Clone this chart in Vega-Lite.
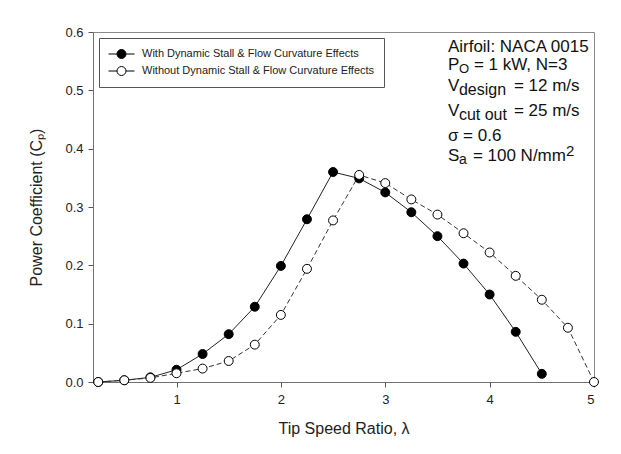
{
  "$schema": "https://vega.github.io/schema/vega-lite/v6.json",
  "width": 501,
  "height": 350,
  "autosize": {"type": "none"},
  "padding": {"left": 93, "top": 32, "right": 27, "bottom": 72},
  "background": "white",
  "config": {
    "font": "Liberation Sans",
    "view": {"stroke": "#8a8a8a", "strokeWidth": 1},
    "axis": {
      "grid": false,
      "domainColor": "#707070",
      "tickColor": "#555555",
      "tickSize": 5,
      "labelColor": "#222222",
      "titleColor": "#222222",
      "labelFont": "Liberation Sans",
      "titleFont": "Liberation Sans",
      "labelFontSize": 13,
      "titleFontSize": 16,
      "titleFontWeight": "normal"
    }
  },
  "data": {
    "values": [
      {"series": "With Dynamic Stall & Flow Curvature Effects", "lambda": 0.25, "cp": 0.0},
      {"series": "With Dynamic Stall & Flow Curvature Effects", "lambda": 0.5, "cp": 0.003},
      {"series": "With Dynamic Stall & Flow Curvature Effects", "lambda": 0.75, "cp": 0.008},
      {"series": "With Dynamic Stall & Flow Curvature Effects", "lambda": 1.0, "cp": 0.021},
      {"series": "With Dynamic Stall & Flow Curvature Effects", "lambda": 1.25, "cp": 0.048},
      {"series": "With Dynamic Stall & Flow Curvature Effects", "lambda": 1.5, "cp": 0.082},
      {"series": "With Dynamic Stall & Flow Curvature Effects", "lambda": 1.75, "cp": 0.129},
      {"series": "With Dynamic Stall & Flow Curvature Effects", "lambda": 2.0, "cp": 0.199},
      {"series": "With Dynamic Stall & Flow Curvature Effects", "lambda": 2.25, "cp": 0.279},
      {"series": "With Dynamic Stall & Flow Curvature Effects", "lambda": 2.5, "cp": 0.36},
      {"series": "With Dynamic Stall & Flow Curvature Effects", "lambda": 2.75, "cp": 0.349},
      {"series": "With Dynamic Stall & Flow Curvature Effects", "lambda": 3.0, "cp": 0.325},
      {"series": "With Dynamic Stall & Flow Curvature Effects", "lambda": 3.25, "cp": 0.291},
      {"series": "With Dynamic Stall & Flow Curvature Effects", "lambda": 3.5, "cp": 0.25},
      {"series": "With Dynamic Stall & Flow Curvature Effects", "lambda": 3.75, "cp": 0.203},
      {"series": "With Dynamic Stall & Flow Curvature Effects", "lambda": 4.0, "cp": 0.15},
      {"series": "With Dynamic Stall & Flow Curvature Effects", "lambda": 4.25, "cp": 0.086},
      {"series": "With Dynamic Stall & Flow Curvature Effects", "lambda": 4.5, "cp": 0.014},
      {"series": "Without Dynamic Stall & Flow Curvature Effects", "lambda": 0.25, "cp": 0.0},
      {"series": "Without Dynamic Stall & Flow Curvature Effects", "lambda": 0.5, "cp": 0.003},
      {"series": "Without Dynamic Stall & Flow Curvature Effects", "lambda": 0.75, "cp": 0.007},
      {"series": "Without Dynamic Stall & Flow Curvature Effects", "lambda": 1.0, "cp": 0.015},
      {"series": "Without Dynamic Stall & Flow Curvature Effects", "lambda": 1.25, "cp": 0.023},
      {"series": "Without Dynamic Stall & Flow Curvature Effects", "lambda": 1.5, "cp": 0.036},
      {"series": "Without Dynamic Stall & Flow Curvature Effects", "lambda": 1.75, "cp": 0.064},
      {"series": "Without Dynamic Stall & Flow Curvature Effects", "lambda": 2.0, "cp": 0.115},
      {"series": "Without Dynamic Stall & Flow Curvature Effects", "lambda": 2.25, "cp": 0.194},
      {"series": "Without Dynamic Stall & Flow Curvature Effects", "lambda": 2.5, "cp": 0.277},
      {"series": "Without Dynamic Stall & Flow Curvature Effects", "lambda": 2.75, "cp": 0.355},
      {"series": "Without Dynamic Stall & Flow Curvature Effects", "lambda": 3.0, "cp": 0.341},
      {"series": "Without Dynamic Stall & Flow Curvature Effects", "lambda": 3.25, "cp": 0.313},
      {"series": "Without Dynamic Stall & Flow Curvature Effects", "lambda": 3.5, "cp": 0.287},
      {"series": "Without Dynamic Stall & Flow Curvature Effects", "lambda": 3.75, "cp": 0.255},
      {"series": "Without Dynamic Stall & Flow Curvature Effects", "lambda": 4.0, "cp": 0.222},
      {"series": "Without Dynamic Stall & Flow Curvature Effects", "lambda": 4.25, "cp": 0.182},
      {"series": "Without Dynamic Stall & Flow Curvature Effects", "lambda": 4.5, "cp": 0.141},
      {"series": "Without Dynamic Stall & Flow Curvature Effects", "lambda": 4.75, "cp": 0.093},
      {"series": "Without Dynamic Stall & Flow Curvature Effects", "lambda": 5.0, "cp": 0.0}
    ]
  },
  "layer": [
    {
      "transform": [{"filter": "datum.series === 'With Dynamic Stall & Flow Curvature Effects'"}],
      "mark": {"type": "line", "color": "#222222", "strokeWidth": 1},
      "encoding": {
        "x": {
          "field": "lambda", "type": "quantitative",
          "scale": {"domain": [0.2, 5], "nice": false, "zero": false},
          "axis": {"values": [1, 2, 3, 4, 5], "format": "d", "title": "Tip Speed Ratio, λ", "labelPadding": 6, "titlePadding": 14}
        },
        "y": {
          "field": "cp", "type": "quantitative",
          "scale": {"domain": [0, 0.6], "nice": false},
          "axis": {"values": [0, 0.1, 0.2, 0.3, 0.4, 0.5, 0.6], "format": ".1f", "title": "Power Coefficient (Cₚ)", "labelPadding": 5, "titlePadding": 20}
        }
      }
    },
    {
      "transform": [{"filter": "datum.series === 'Without Dynamic Stall & Flow Curvature Effects'"}],
      "mark": {"type": "line", "color": "#333333", "strokeWidth": 1, "strokeDash": [5, 3]},
      "encoding": {
        "x": {"field": "lambda", "type": "quantitative"},
        "y": {"field": "cp", "type": "quantitative"}
      }
    },
    {
      "mark": {"type": "point", "shape": "circle", "filled": true, "stroke": "#000000", "strokeWidth": 1, "size": 80, "opacity": 1},
      "encoding": {
        "x": {"field": "lambda", "type": "quantitative"},
        "y": {"field": "cp", "type": "quantitative"},
        "fill": {
          "field": "series", "type": "nominal",
          "scale": {"domain": ["With Dynamic Stall & Flow Curvature Effects", "Without Dynamic Stall & Flow Curvature Effects"], "range": ["#000000", "#ffffff"]},
          "legend": {
            "orient": "none", "legendX": 6, "legendY": 6, "title": null,
            "symbolType": "M-1,0H0.31M1.69,0H3M1.69,0A0.69,0.69,0,1,1,0.31,0A0.69,0.69,0,1,1,1.69,0Z",
            "symbolSize": 169, "symbolStrokeColor": "#000000", "symbolStrokeWidth": 1, "symbolOpacity": 1,
            "labelFontSize": 11, "labelFont": "Liberation Sans", "labelColor": "#222222", "labelOffset": 20, "labelLimit": 400,
            "strokeColor": "#555555", "fillColor": "#ffffff", "padding": 9, "rowPadding": 3
          }
        }
      }
    },
    {
      "data": {"values": [{"t": "Airfoil: NACA 0015"}]},
      "mark": {"type": "text", "align": "left", "baseline": "middle", "fontSize": 17, "color": "#111111"},
      "encoding": {"x": {"datum": 3.6}, "y": {"datum": 0.574}, "text": {"field": "t"}}
    },
    {
      "data": {"values": [{"t": "P"}]},
      "mark": {"type": "text", "align": "left", "baseline": "middle", "fontSize": 17, "color": "#111111"},
      "encoding": {"x": {"datum": 3.6}, "y": {"datum": 0.543}, "text": {"field": "t"}}
    },
    {
      "data": {"values": [{"t": "O"}]},
      "mark": {"type": "text", "align": "left", "baseline": "middle", "fontSize": 13, "color": "#111111", "dx": 11, "dy": 4},
      "encoding": {"x": {"datum": 3.6}, "y": {"datum": 0.543}, "text": {"field": "t"}}
    },
    {
      "data": {"values": [{"t": "= 1 kW, N=3"}]},
      "mark": {"type": "text", "align": "left", "baseline": "middle", "fontSize": 17, "color": "#111111", "dx": 26},
      "encoding": {"x": {"datum": 3.6}, "y": {"datum": 0.543}, "text": {"field": "t"}}
    },
    {
      "data": {"values": [{"t": "V"}]},
      "mark": {"type": "text", "align": "left", "baseline": "middle", "fontSize": 17, "color": "#111111"},
      "encoding": {"x": {"datum": 3.6}, "y": {"datum": 0.507}, "text": {"field": "t"}}
    },
    {
      "data": {"values": [{"t": "design"}]},
      "mark": {"type": "text", "align": "left", "baseline": "middle", "fontSize": 16, "color": "#111111", "dx": 11, "dy": 4},
      "encoding": {"x": {"datum": 3.6}, "y": {"datum": 0.507}, "text": {"field": "t"}}
    },
    {
      "data": {"values": [{"t": "= 12 m/s"}]},
      "mark": {"type": "text", "align": "left", "baseline": "middle", "fontSize": 17, "color": "#111111", "dx": 66},
      "encoding": {"x": {"datum": 3.6}, "y": {"datum": 0.507}, "text": {"field": "t"}}
    },
    {
      "data": {"values": [{"t": "V"}]},
      "mark": {"type": "text", "align": "left", "baseline": "middle", "fontSize": 17, "color": "#111111"},
      "encoding": {"x": {"datum": 3.6}, "y": {"datum": 0.464}, "text": {"field": "t"}}
    },
    {
      "data": {"values": [{"t": "cut out"}]},
      "mark": {"type": "text", "align": "left", "baseline": "middle", "fontSize": 16, "color": "#111111", "dx": 11, "dy": 4},
      "encoding": {"x": {"datum": 3.6}, "y": {"datum": 0.464}, "text": {"field": "t"}}
    },
    {
      "data": {"values": [{"t": "= 25 m/s"}]},
      "mark": {"type": "text", "align": "left", "baseline": "middle", "fontSize": 17, "color": "#111111", "dx": 66},
      "encoding": {"x": {"datum": 3.6}, "y": {"datum": 0.464}, "text": {"field": "t"}}
    },
    {
      "data": {"values": [{"t": "σ = 0.6"}]},
      "mark": {"type": "text", "align": "left", "baseline": "middle", "fontSize": 17, "color": "#111111"},
      "encoding": {"x": {"datum": 3.6}, "y": {"datum": 0.421}, "text": {"field": "t"}}
    },
    {
      "data": {"values": [{"t": "S"}]},
      "mark": {"type": "text", "align": "left", "baseline": "middle", "fontSize": 17, "color": "#111111"},
      "encoding": {"x": {"datum": 3.6}, "y": {"datum": 0.388}, "text": {"field": "t"}}
    },
    {
      "data": {"values": [{"t": "a"}]},
      "mark": {"type": "text", "align": "left", "baseline": "middle", "fontSize": 14, "color": "#111111", "dx": 11, "dy": 4},
      "encoding": {"x": {"datum": 3.6}, "y": {"datum": 0.388}, "text": {"field": "t"}}
    },
    {
      "data": {"values": [{"t": "= 100 N/mm"}]},
      "mark": {"type": "text", "align": "left", "baseline": "middle", "fontSize": 17, "color": "#111111", "dx": 25},
      "encoding": {"x": {"datum": 3.6}, "y": {"datum": 0.388}, "text": {"field": "t"}}
    },
    {
      "data": {"values": [{"t": "2"}]},
      "mark": {"type": "text", "align": "left", "baseline": "middle", "fontSize": 15, "color": "#111111", "dx": 118, "dy": -5},
      "encoding": {"x": {"datum": 3.6}, "y": {"datum": 0.388}, "text": {"field": "t"}}
    }
  ]
}
